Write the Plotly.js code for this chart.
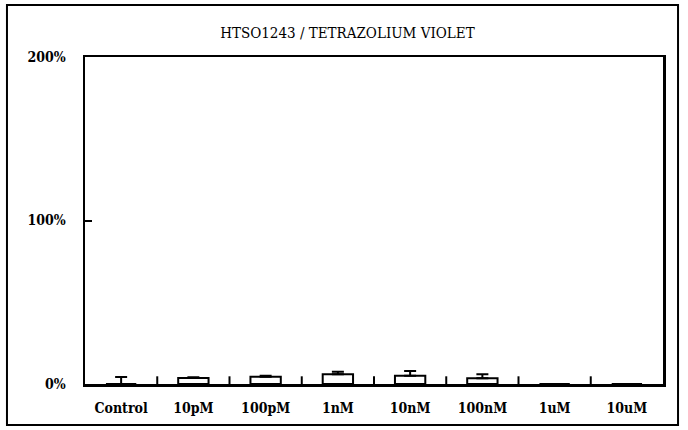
<!DOCTYPE html>
<html>
<head>
<meta charset="utf-8">
<script src="https://cdn.plot.ly/plotly-3.0.1.min.js"></script>
<style>
  html, body { margin: 0; padding: 0; background: #fff; }
  #chart { width: 688px; height: 430px; }
</style>
</head>
<body>
<div id="chart"></div>
<script>
// concentrations on the x axis
var doses = ['Control', '10pM', '100pM', '1nM', '10nM', '100nM', '1uM', '10uM'];
// response in % of control
var response = [0, 3.6, 4.5, 6, 5, 3.5, 0, 0];
var errPlus = [4.3, 0.6, 0.5, 1.5, 3, 2.5, 0, 0];

var positions = doses.map(function (d, i) { return i; });
// tick marks sit between the categories
var boundaries = positions.slice(1).map(function (p) { return p - 0.5; });

var font = 'DejaVu Serif Condensed, Liberation Serif, serif';

var bars = {
  type: 'bar',
  x: positions,
  y: response,
  text: doses,
  textposition: 'none',
  width: 0.42,
  marker: {color: '#fff', line: {color: '#000', width: 2}},
  error_y: {
    type: 'data',
    symmetric: false,
    array: errPlus,
    arrayminus: [0, 0, 0, 0, 0, 0, 0, 0],
    color: '#000',
    thickness: 2,
    width: 6
  },
  hoverinfo: 'text+y'
};

// boundary ticks drawn as tiny vertical marks sitting on the 0 line
var boundaryTicks = {
  type: 'scatter',
  mode: 'markers',
  x: boundaries,
  y: boundaries.map(function () { return 0; }),
  marker: {symbol: 'line-ns', size: 11, color: '#000', line: {color: '#000', width: 2}},
  cliponaxis: true,
  hoverinfo: 'skip'
};

var layout = {
  width: 688,
  height: 430,
  margin: {l: 85, r: 25, t: 57, b: 46},
  paper_bgcolor: '#fff',
  plot_bgcolor: '#fff',
  showlegend: false,
  font: {family: font, color: '#000', size: 14},
  title: {
    text: 'HTSO1243 / TETRAZOLIUM VIOLET',
    font: {family: font, size: 15, color: '#000'},
    x: 0.505, xanchor: 'center',
    y: 0.925, yanchor: 'middle'
  },
  xaxis: {
    type: 'linear',
    range: [-0.5, 7.5],
    tickvals: positions,
    ticktext: doses,
    showline: true, mirror: true, linecolor: '#000', linewidth: 2.5,
    showgrid: false, zeroline: false,
    ticks: '',
    tickfont: {family: font, size: 14, weight: 'bold'},
    ticklabelstandoff: 10
  },
  yaxis: {
    range: [0, 200],
    tickvals: [0, 100, 200],
    ticktext: ['0%', '100%', '200%'],
    showline: true, mirror: true, linecolor: '#000', linewidth: 2.5,
    showgrid: false, zeroline: false,
    ticks: 'inside', ticklen: 7, tickwidth: 2, tickcolor: '#000',
    tickfont: {family: font, size: 14, weight: 'bold'},
    ticklabelstandoff: 14
  },
  shapes: [{
    type: 'rect', xref: 'paper', yref: 'paper',
    x0: -0.135, x1: 1.026, y0: -0.125, y1: 1.159,
    line: {color: '#000', width: 2}
  }]
};

Plotly.newPlot('chart', [bars, boundaryTicks], layout, {displayModeBar: false, staticPlot: true});
</script>
</body>
</html>
